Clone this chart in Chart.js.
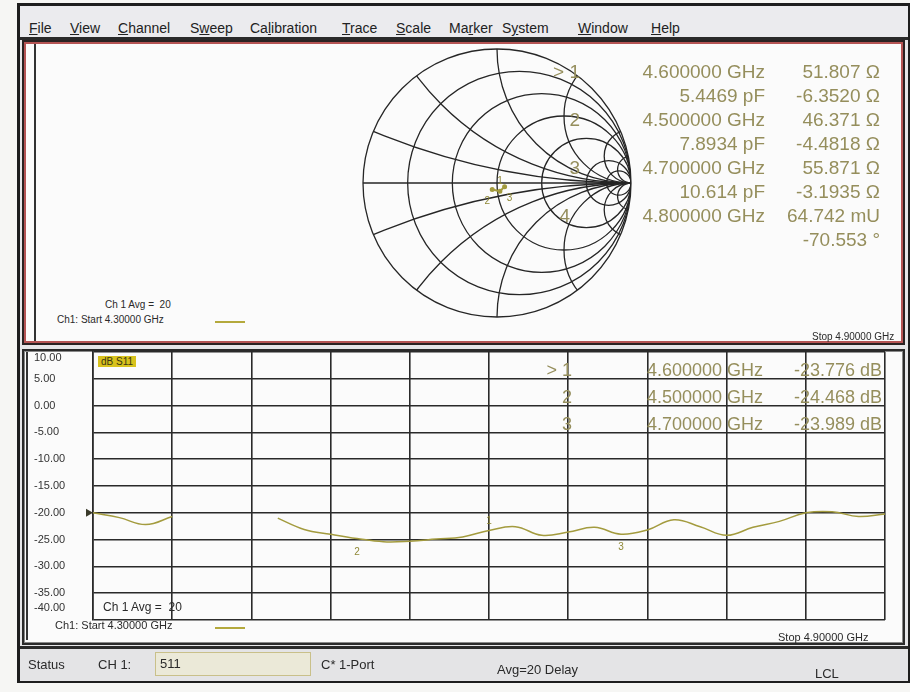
<!DOCTYPE html>
<html>
<head>
<meta charset="utf-8">
<script src="https://cdn.jsdelivr.net/npm/chart.js@4"></script>
<style>
  html, body { margin: 0; padding: 0; }
  body { width: 910px; height: 692px; position: relative; background: #f6f6f4; font-family: 'Liberation Sans', Arial, sans-serif; overflow: hidden; }
  .abs { position: absolute; }
  #screen { left: 17px; top: 3px; width: 888px; height: 674px; border: 3px solid #1e1e1e; background: #e6e6e8; }
  #menu { left: 20px; top: 6px; width: 888px; height: 31px; background: #ebebee; border-bottom: 3px solid #2a2a2a; }
  #menu span { position: absolute; top: 14px; font-size: 14px; color: #222; }
  .panel { background: #fbfbfb; }
  #top { left: 22px; top: 40px; width: 879px; height: 301px; border: 2px solid #2a2222; box-shadow: inset 0 0 0 2px #b55454; }
  #bot { left: 22px; top: 349px; width: 879px; height: 292px; border: 2px solid #2a2a2a; box-shadow: inset 0 0 0 1px #888; }
  .vline { width: 2px; background: #333; }
  #status { left: 20px; top: 646px; width: 888px; height: 32px; background: #e4e4e6; border-top: 3px solid #2a2a2a; }
  .txt { position: absolute; white-space: nowrap; color: #2a2a2a; }
  .rd { position: absolute; white-space: nowrap; color: #958e5c; font-size: 19px; text-align: right; line-height: 22px; }
  .dash { position: absolute; height: 2px; background: #b4a93c; }
  canvas { position: absolute; }
</style>
</head>
<body>
<div id="screen" class="abs"></div>
<div id="menu" class="abs">
  <span style="left:9px"><u>F</u>ile</span>
  <span style="left:50px"><u>V</u>iew</span>
  <span style="left:98px"><u>C</u>hannel</span>
  <span style="left:170px">S<u>w</u>eep</span>
  <span style="left:230px">Ca<u>l</u>ibration</span>
  <span style="left:322px"><u>T</u>race</span>
  <span style="left:376px"><u>S</u>cale</span>
  <span style="left:429px">Ma<u>r</u>ker</span>
  <span style="left:482px">S<u>y</u>stem</span>
  <span style="left:558px"><u>W</u>indow</span>
  <span style="left:631px"><u>H</u>elp</span>
</div>
<div id="top" class="abs panel"></div>
<div class="abs vline" style="left:34px; top:44px; height:297px;"></div>
<div id="bot" class="abs panel"></div>
<div class="abs vline" style="left:26px; top:352px; height:288px;"></div>
<div id="status" class="abs"></div>

<canvas id="smith" style="left:362px; top:48px;"></canvas>
<canvas id="trace" style="left:25px; top:338px;"></canvas>

<div id="overlay"></div>

<script>
// ---- data ----
const freqMHz = [4300, 4320, 4340, 4360, 4380, 4400, 4420, 4440, 4460, 4480, 4500,
                 4520, 4540, 4560, 4580, 4600, 4620, 4640, 4660, 4680, 4700,
                 4720, 4740, 4760, 4780, 4800, 4820, 4840, 4860, 4880, 4900];
const s11dB = [-20.0, -20.9, -22.2, -20.7, null, null, null, -21.0, -23.1, -24.0, -24.8,
               -25.4, -25.3, -24.9, -24.5, -23.3, -22.6, -24.2, -23.6, -22.7, -24.0,
               -23.2, -21.3, -22.6, -24.2, -22.7, -21.6, -20.0, -19.8, -20.7, -20.2];
const yTicks = [10, 5, 0, -5, -10, -15, -20, -25, -30, -35, -40];

// markers (S11 log mag readout + Smith readout)
const markerNames = ['1', '2', '3'];
const markerFreqMHz = [4600, 4500, 4700];
const markerDB = [-23.776, -24.468, -23.989];
const markerResOhm = [51.807, 46.371, 55.871];
const markerReactOhm = [-6.3520, -4.4818, -3.1935];
const markerCap = ['5.4469 pF', '7.8934 pF', '10.614 pF'];
// 4th Smith readout, polar format
const polarFreqMHz = 4800;
const polarMag = '64.742 mU';
const polarDeg = '-70.553 °';

// Smith chart grid
const resCircles = [0.2, 0.5, 1, 2, 5, 10];
const reactArcs = [0.2, 0.5, 1, 2, 5, 10];
const Z0 = 50;

const traceCol = '#a39b3e';

// ---- overlay text ----
const ov = document.getElementById('overlay');
function addText(html, css, cls) {
  const d = document.createElement('div');
  d.className = cls || 'txt';
  d.innerHTML = html;
  d.style.cssText = css;
  ov.appendChild(d);
  return d;
}
const ghz = f => (f / 1000).toFixed(6) + ' GHz';

// top readout
const topRows = [72, 120, 168, 216];
markerNames.forEach((m, i) => {
  const y = topRows[i];
  addText((i === 0 ? '&gt; ' : '') + m, `left:530px; top:${y - 11}px; width:50px;`, 'rd');
  addText(ghz(markerFreqMHz[i]), `left:595px; top:${y - 11}px; width:170px;`, 'rd');
  addText(markerResOhm[i].toPrecision(5) + ' Ω', `left:770px; top:${y - 11}px; width:110px;`, 'rd');
  addText(markerCap[i], `left:595px; top:${y + 13}px; width:170px;`, 'rd');
  addText(markerReactOhm[i].toPrecision(5) + ' Ω', `left:770px; top:${y + 13}px; width:110px;`, 'rd');
});
addText('4', `left:530px; top:${topRows[3] - 11}px; width:40px;`, 'rd');
addText(ghz(polarFreqMHz), `left:595px; top:${topRows[3] - 11}px; width:170px;`, 'rd');
addText(polarMag, `left:770px; top:${topRows[3] - 11}px; width:110px;`, 'rd');
addText(polarDeg, `left:770px; top:${topRows[3] + 13}px; width:110px;`, 'rd');

addText('Ch 1 Avg = &nbsp;20', 'left:105px; top:299px; font-size:10px;');
addText('Ch1: Start 4.30000 GHz', 'left:57px; top:314px; font-size:10px;');
addText('', 'left:215px; top:321px; width:30px;', 'dash');
addText('Stop 4.90000 GHz', 'left:812px; top:331px; font-size:10px;');

// bottom readout
const botRows = [370, 397, 424];
markerNames.forEach((m, i) => {
  const y = botRows[i];
  addText((i === 0 ? '&gt; ' : '') + m, `left:520px; top:${y - 11}px; width:52px; font-size:18px;`, 'rd');
  addText(ghz(markerFreqMHz[i]), `left:595px; top:${y - 11}px; width:168px; font-size:18px;`, 'rd');
  addText(markerDB[i].toFixed(3) + ' dB', `left:770px; top:${y - 11}px; width:112px; font-size:18px;`, 'rd');
});
addText('dB S11', 'left:98px; top:356px; font-size:10px; background:#d8c21c; padding:0 3px; color:#3a3510;');
addText('Ch 1 Avg = &nbsp;20', 'left:103px; top:600px; font-size:12px;');
addText('Ch1: Start 4.30000 GHz', 'left:55px; top:619px; font-size:11px;');
addText('', 'left:215px; top:627px; width:30px;', 'dash');
addText('Stop 4.90000 GHz', 'left:778px; top:631px; font-size:11px;');

// status bar
addText('Status', 'left:28px; top:657px; font-size:13px;');
addText('CH 1:', 'left:98px; top:657px; font-size:13px;');
addText('511', 'left:155px; top:652px; width:150px; height:22px; line-height:22px; padding-left:4px; font-size:13px; border:1px solid #c9c08a; background:#ebe9d8;');
addText('C* 1-Port', 'left:321px; top:657px; font-size:13px;');
addText('Avg=20 Delay', 'left:497px; top:662px; font-size:13px;');
addText('LCL', 'left:815px; top:666px; font-size:13px;');

// ---- Smith chart ----
function gamma(r, x) {
  const zr = r / Z0, zi = x / Z0;
  const nr = zr - 1, ni = zi, dr = zr + 1, di = zi;
  const den = dr * dr + di * di;
  return { x: (nr * dr + ni * di) / den, y: (ni * dr - nr * di) / den };
}
const smithOrder = markerFreqMHz.map((f, i) => i).sort((a, b) => markerFreqMHz[a] - markerFreqMHz[b]);
const smithPts = smithOrder.map(i => gamma(markerResOhm[i], markerReactOhm[i]));

const smithGrid = {
  id: 'smithGrid',
  beforeDatasetsDraw(chart) {
    const { ctx, scales: { x, y } } = chart;
    const px = v => x.getPixelForValue(v), py = v => y.getPixelForValue(v);
    const R = px(1) - px(0) - 1;
    ctx.save();
    ctx.strokeStyle = '#262626';
    ctx.lineWidth = 1.3;
    ctx.beginPath(); ctx.arc(px(0), py(0), R, 0, 2 * Math.PI); ctx.stroke();
    ctx.beginPath(); ctx.arc(px(0), py(0), R, 0, 2 * Math.PI); ctx.clip();
    ctx.beginPath(); ctx.moveTo(px(-1), py(0)); ctx.lineTo(px(1), py(0)); ctx.stroke();
    resCircles.forEach(r => {
      ctx.beginPath();
      ctx.arc(px(0) + R * r / (1 + r), py(0), R / (1 + r), 0, 2 * Math.PI);
      ctx.stroke();
    });
    reactArcs.forEach(xv => [1, -1].forEach(s => {
      ctx.beginPath();
      ctx.arc(px(0) + R, py(0) - s * R / xv, R / xv, 0, 2 * Math.PI);
      ctx.stroke();
    }));
    ctx.restore();
  },
  afterDatasetsDraw(chart) {
    const { ctx, scales: { x, y } } = chart;
    ctx.save();
    ctx.fillStyle = '#8f8836';
    ctx.font = '10px "Liberation Sans"';
    ctx.textAlign = 'center';
    markerNames.forEach((m, i) => {
      const g = gamma(markerResOhm[i], markerReactOhm[i]);
      const dx = i === 0 ? 0 : (i === 1 ? -5 : 5);
      const dy = i === 0 ? -7 : 14;
      ctx.fillText(m, x.getPixelForValue(g.x) + dx, y.getPixelForValue(g.y) + dy);
    });
    ctx.restore();
  }
};

const sc = document.getElementById('smith');
sc.width = 270; sc.height = 270;
sc.style.width = '270px'; sc.style.height = '270px';
new Chart(sc, {
  type: 'scatter',
  data: {
    datasets: [{
      data: smithPts,
      showLine: true,
      borderColor: traceCol,
      backgroundColor: traceCol,
      borderWidth: 2,
      pointRadius: 1.5
    }]
  },
  options: {
    responsive: false,
    animation: false,
    events: [],
    plugins: { legend: { display: false }, tooltip: { enabled: false } },
    layout: { padding: 0, autoPadding: false },
    scales: {
      x: { type: 'linear', min: -1, max: 1, display: false },
      y: { type: 'linear', min: -1, max: 1, display: false }
    }
  },
  plugins: [smithGrid]
});

// ---- log mag trace ----
const traceMarks = {
  id: 'traceMarks',
  afterDatasetsDraw(chart) {
    const { ctx, scales: { x, y } } = chart;
    ctx.save();
    // y tick labels, kept inside the graticule like the instrument does
    ctx.fillStyle = '#333';
    ctx.font = '11px "Liberation Sans Narrow", "Liberation Sans"';
    ctx.textAlign = 'left';
    ctx.textBaseline = 'middle';
    yTicks.forEach(v => {
      const ty = Math.min(Math.max(y.getPixelForValue(v), y.top + 6), y.bottom - 12);
      ctx.fillText(v.toFixed(2), 9, ty);
    });
    // reference level arrow
    const ry = y.getPixelForValue(-20);
    ctx.fillStyle = '#3a3a2a';
    ctx.beginPath();
    ctx.moveTo(x.left - 7, ry - 4); ctx.lineTo(x.left, ry); ctx.lineTo(x.left - 7, ry + 4);
    ctx.closePath(); ctx.fill();
    // marker labels
    ctx.fillStyle = '#8f8836';
    ctx.font = '10px "Liberation Sans"';
    ctx.textAlign = 'center';
    ctx.textBaseline = 'alphabetic';
    markerNames.forEach((m, i) => {
      const idx = freqMHz.indexOf(markerFreqMHz[i]);
      const px = x.getPixelForValue(markerFreqMHz[i]);
      const py = y.getPixelForValue(s11dB[idx]);
      if (i === 0) ctx.fillText(m, px, py - 6);
      else ctx.fillText(m, px, py + 16);
    });
    ctx.restore();
  }
};

const tc = document.getElementById('trace');
tc.width = 875; tc.height = 307;
tc.style.width = '875px'; tc.style.height = '307px';
new Chart(tc, {
  type: 'line',
  data: {
    datasets: [{
      data: freqMHz.map((f, i) => ({ x: f, y: s11dB[i] })),
      borderColor: traceCol,
      borderWidth: 1.5,
      pointRadius: 0,
      tension: 0.4,
      spanGaps: false
    }]
  },
  options: {
    responsive: false,
    animation: false,
    events: [],
    plugins: { legend: { display: false }, tooltip: { enabled: false } },
    layout: { autoPadding: false, padding: { left: 8, top: 14, right: 15, bottom: 25 } },
    scales: {
      x: {
        type: 'linear', min: 4300, max: 4900,
        ticks: { display: false, stepSize: 60 },
        grid: { color: '#2a2a2a', lineWidth: 1.6, drawTicks: false },
        border: { display: false },
        afterFit: s => { s.height = 0; }
      },
      y: {
        type: 'linear', min: -40, max: 10,
        afterBuildTicks: s => { s.ticks = yTicks.map(v => ({ value: v })); },
        afterFit: s => { s.width = 60; },
        ticks: { display: false },
        grid: { color: '#2a2a2a', lineWidth: 1.6, drawTicks: false },
        border: { color: '#2a2a2a', width: 1.6 }
      }
    }
  },
  plugins: [traceMarks]
});
</script>
</body>
</html>
